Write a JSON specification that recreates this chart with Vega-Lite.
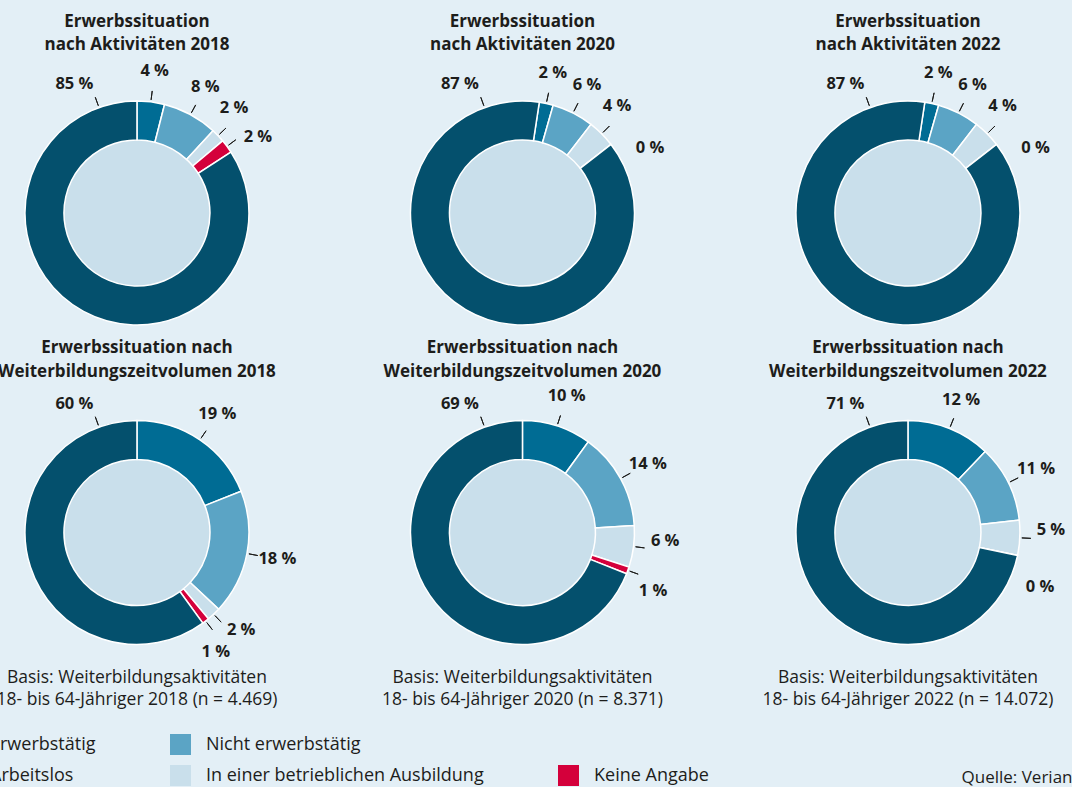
{
  "$schema": "https://vega.github.io/schema/vega-lite/v6.json",
  "width": 1072,
  "height": 787,
  "autosize": {"type": "none"},
  "padding": 0,
  "background": "#e3eff6",
  "config": {"font": "Open Sans", "view": {"stroke": null}},
  "title": {"text": "Quelle: Verian", "orient": "bottom", "anchor": "start", "frame": "group", "dx": 961.5, "offset": -4, "baseline": "alphabetic", "font": "Open Sans", "fontSize": 17, "fontWeight": "normal", "color": "#1d1d1b"},
  "datasets": {
    "anteile": [
      {"typ": "Aktivitäten", "jahr": "2018", "kategorie": "Arbeitslos", "wert": 4},
      {"typ": "Aktivitäten", "jahr": "2018", "kategorie": "Nicht erwerbstätig", "wert": 8},
      {"typ": "Aktivitäten", "jahr": "2018", "kategorie": "In einer betrieblichen Ausbildung", "wert": 2},
      {"typ": "Aktivitäten", "jahr": "2018", "kategorie": "Keine Angabe", "wert": 2},
      {"typ": "Aktivitäten", "jahr": "2018", "kategorie": "Erwerbstätig", "wert": 85},
      {"typ": "Aktivitäten", "jahr": "2020", "kategorie": "Arbeitslos", "wert": 2},
      {"typ": "Aktivitäten", "jahr": "2020", "kategorie": "Nicht erwerbstätig", "wert": 6},
      {"typ": "Aktivitäten", "jahr": "2020", "kategorie": "In einer betrieblichen Ausbildung", "wert": 4},
      {"typ": "Aktivitäten", "jahr": "2020", "kategorie": "Keine Angabe", "wert": 0},
      {"typ": "Aktivitäten", "jahr": "2020", "kategorie": "Erwerbstätig", "wert": 87},
      {"typ": "Aktivitäten", "jahr": "2022", "kategorie": "Arbeitslos", "wert": 2},
      {"typ": "Aktivitäten", "jahr": "2022", "kategorie": "Nicht erwerbstätig", "wert": 6},
      {"typ": "Aktivitäten", "jahr": "2022", "kategorie": "In einer betrieblichen Ausbildung", "wert": 4},
      {"typ": "Aktivitäten", "jahr": "2022", "kategorie": "Keine Angabe", "wert": 0},
      {"typ": "Aktivitäten", "jahr": "2022", "kategorie": "Erwerbstätig", "wert": 87},
      {"typ": "Weiterbildungszeitvolumen", "jahr": "2018", "kategorie": "Arbeitslos", "wert": 19},
      {"typ": "Weiterbildungszeitvolumen", "jahr": "2018", "kategorie": "Nicht erwerbstätig", "wert": 18},
      {"typ": "Weiterbildungszeitvolumen", "jahr": "2018", "kategorie": "In einer betrieblichen Ausbildung", "wert": 2},
      {"typ": "Weiterbildungszeitvolumen", "jahr": "2018", "kategorie": "Keine Angabe", "wert": 1},
      {"typ": "Weiterbildungszeitvolumen", "jahr": "2018", "kategorie": "Erwerbstätig", "wert": 60},
      {"typ": "Weiterbildungszeitvolumen", "jahr": "2020", "kategorie": "Arbeitslos", "wert": 10},
      {"typ": "Weiterbildungszeitvolumen", "jahr": "2020", "kategorie": "Nicht erwerbstätig", "wert": 14},
      {"typ": "Weiterbildungszeitvolumen", "jahr": "2020", "kategorie": "In einer betrieblichen Ausbildung", "wert": 6},
      {"typ": "Weiterbildungszeitvolumen", "jahr": "2020", "kategorie": "Keine Angabe", "wert": 1},
      {"typ": "Weiterbildungszeitvolumen", "jahr": "2020", "kategorie": "Erwerbstätig", "wert": 69},
      {"typ": "Weiterbildungszeitvolumen", "jahr": "2022", "kategorie": "Arbeitslos", "wert": 12},
      {"typ": "Weiterbildungszeitvolumen", "jahr": "2022", "kategorie": "Nicht erwerbstätig", "wert": 11},
      {"typ": "Weiterbildungszeitvolumen", "jahr": "2022", "kategorie": "In einer betrieblichen Ausbildung", "wert": 5},
      {"typ": "Weiterbildungszeitvolumen", "jahr": "2022", "kategorie": "Keine Angabe", "wert": 0},
      {"typ": "Weiterbildungszeitvolumen", "jahr": "2022", "kategorie": "Erwerbstätig", "wert": 71}
    ],
    "panels": [
      {"typ": "Aktivitäten", "jahr": "2018", "titel": "Erwerbssituation\nnach Aktivitäten 2018", "basis": ""},
      {"typ": "Aktivitäten", "jahr": "2020", "titel": "Erwerbssituation\nnach Aktivitäten 2020", "basis": ""},
      {"typ": "Aktivitäten", "jahr": "2022", "titel": "Erwerbssituation\nnach Aktivitäten 2022", "basis": ""},
      {"typ": "Weiterbildungszeitvolumen", "jahr": "2018", "titel": "Erwerbssituation nach\nWeiterbildungszeitvolumen 2018", "basis": "Basis: Weiterbildungsaktivitäten\n18- bis 64-Jähriger 2018 (n = 4.469)"},
      {"typ": "Weiterbildungszeitvolumen", "jahr": "2020", "titel": "Erwerbssituation nach\nWeiterbildungszeitvolumen 2020", "basis": "Basis: Weiterbildungsaktivitäten\n18- bis 64-Jähriger 2020 (n = 8.371)"},
      {"typ": "Weiterbildungszeitvolumen", "jahr": "2022", "titel": "Erwerbssituation nach\nWeiterbildungszeitvolumen 2022", "basis": "Basis: Weiterbildungsaktivitäten\n18- bis 64-Jähriger 2022 (n = 14.072)"}
    ]
  },
  "layer": [
    {
      "data": {"name": "panels"},
      "mark": {"type": "arc", "theta": 0, "theta2": 6.2832, "outerRadius": 73, "innerRadius": 0, "fill": "#c9dfeb"},
      "encoding": {
        "x": {"field": "jahr", "type": "ordinal", "axis": null, "scale": {"type": "point", "padding": 0.3904, "align": 0.455}},
        "y": {"field": "typ", "type": "nominal", "axis": null, "scale": {"type": "point", "padding": 0.7316, "align": 0.4556}}
      }
    },
    {
      "data": {"name": "anteile"},
      "transform": [
        {"stack": "wert", "groupby": ["typ", "jahr"], "offset": "normalize", "as": ["v0", "v1"]},
        {"calculate": "datum.typ == 'Aktivitäten' && datum.jahr != '2018' ? 0.024 : 0", "as": "rot"},
        {"calculate": "datum.v0 + datum.rot", "as": "a0"},
        {"calculate": "datum.v1 + datum.rot", "as": "a1"},
        {"calculate": "datum.kategorie == 'Erwerbstätig' ? 0.945 : (datum.a0 + datum.a1) / 2", "as": "tick"},
        {"calculate": "datum.kategorie == 'Erwerbstätig' ? 0.928 : datum.wert == 0 ? datum.a0 + 0.03 : datum.kategorie == 'In einer betrieblichen Ausbildung' ? datum.tick - 0.01 : datum.kategorie == 'Keine Angabe' ? datum.tick + 0.012 : datum.tick", "as": "lab"},
        {"calculate": "datum.wert + ' %'", "as": "label"}
      ],
      "layer": [
        {
          "mark": {"type": "arc", "outerRadius": 112, "innerRadius": 73, "stroke": "#ffffff", "strokeWidth": 1.5},
          "encoding": {
            "x": {"field": "jahr", "type": "ordinal", "axis": null, "scale": {"type": "point", "padding": 0.3904, "align": 0.455}},
            "y": {"field": "typ", "type": "nominal", "axis": null, "scale": {"type": "point", "padding": 0.7316, "align": 0.4556}},
            "theta": {"field": "a0", "type": "quantitative", "stack": null, "scale": {"domain": [0, 1]}},
            "theta2": {"field": "a1"},
            "color": {
              "field": "kategorie",
              "type": "nominal",
              "scale": {
                "domain": ["Erwerbstätig", "Arbeitslos", "Nicht erwerbstätig", "In einer betrieblichen Ausbildung", "", "Keine Angabe"],
                "range": ["#04506d", "#006c94", "#5ba4c5", "#c9dfeb", "transparent", "#d4003b"]
              },
              "legend": {
                "orient": "none", "legendX": -46, "legendY": 734, "columns": 3, "title": null,
                "symbolType": "square", "symbolSize": 441, "symbolStrokeWidth": 0,
                "labelFont": "Open Sans", "labelFontSize": 18, "labelColor": "#1d1d1b",
                "labelOffset": 15, "columnPadding": 74, "rowPadding": 10, "labelLimit": 400, "padding": 0
              }
            }
          }
        },
        {
          "transform": [{"filter": "datum.wert > 0"}],
          "mark": {"type": "arc", "outerRadius": 123, "innerRadius": 114, "stroke": "#1d1d1b", "strokeWidth": 1, "fillOpacity": 0},
          "encoding": {
            "x": {"field": "jahr", "type": "ordinal", "axis": null, "scale": {"type": "point", "padding": 0.3904, "align": 0.455}},
            "y": {"field": "typ", "type": "nominal", "axis": null, "scale": {"type": "point", "padding": 0.7316, "align": 0.4556}},
            "theta": {"field": "tick", "type": "quantitative", "stack": null, "scale": {"domain": [0, 1]}},
            "theta2": {"field": "tick"}
          }
        },
        {
          "mark": {"type": "text", "radius": 143, "fontSize": 16.5, "fontWeight": "bold", "color": "#1d1d1b", "align": "center", "baseline": "middle"},
          "encoding": {
            "x": {"field": "jahr", "type": "ordinal", "axis": null, "scale": {"type": "point", "padding": 0.3904, "align": 0.455}},
            "y": {"field": "typ", "type": "nominal", "axis": null, "scale": {"type": "point", "padding": 0.7316, "align": 0.4556}},
            "theta": {"field": "lab", "type": "quantitative", "stack": null, "scale": {"domain": [0, 1]}},
            "text": {"field": "label"}
          }
        }
      ]
    },
    {
      "data": {"name": "panels"},
      "transform": [{"filter": "datum.typ == 'Aktivitäten'"}],
      "mark": {"type": "text", "fontSize": 17, "fontWeight": "bold", "color": "#1d1d1b", "align": "center", "baseline": "alphabetic", "lineBreak": "\n", "lineHeight": 23.5, "dy": -186.3},
      "encoding": {
        "x": {"field": "jahr", "type": "ordinal", "axis": null, "scale": {"type": "point", "padding": 0.3904, "align": 0.455}},
        "y": {"field": "typ", "type": "nominal", "axis": null, "scale": {"type": "point", "padding": 0.7316, "align": 0.4556}},
        "text": {"field": "titel"}
      }
    },
    {
      "data": {"name": "panels"},
      "transform": [{"filter": "datum.typ == 'Weiterbildungszeitvolumen'"}],
      "mark": {"type": "text", "fontSize": 17, "fontWeight": "bold", "color": "#1d1d1b", "align": "center", "baseline": "alphabetic", "lineBreak": "\n", "lineHeight": 24, "dy": -179.8},
      "encoding": {
        "x": {"field": "jahr", "type": "ordinal", "axis": null, "scale": {"type": "point", "padding": 0.3904, "align": 0.455}},
        "y": {"field": "typ", "type": "nominal", "axis": null, "scale": {"type": "point", "padding": 0.7316, "align": 0.4556}},
        "text": {"field": "titel"}
      }
    },
    {
      "data": {"name": "panels"},
      "transform": [{"filter": "datum.typ == 'Weiterbildungszeitvolumen'"}],
      "mark": {"type": "text", "fontSize": 17.5, "fontWeight": "normal", "color": "#1d1d1b", "align": "center", "baseline": "alphabetic", "lineBreak": "\n", "lineHeight": 22, "dy": 150.5},
      "encoding": {
        "x": {"field": "jahr", "type": "ordinal", "axis": null, "scale": {"type": "point", "padding": 0.3904, "align": 0.455}},
        "y": {"field": "typ", "type": "nominal", "axis": null, "scale": {"type": "point", "padding": 0.7316, "align": 0.4556}},
        "text": {"field": "basis"}
      }
    }
  ]
}
